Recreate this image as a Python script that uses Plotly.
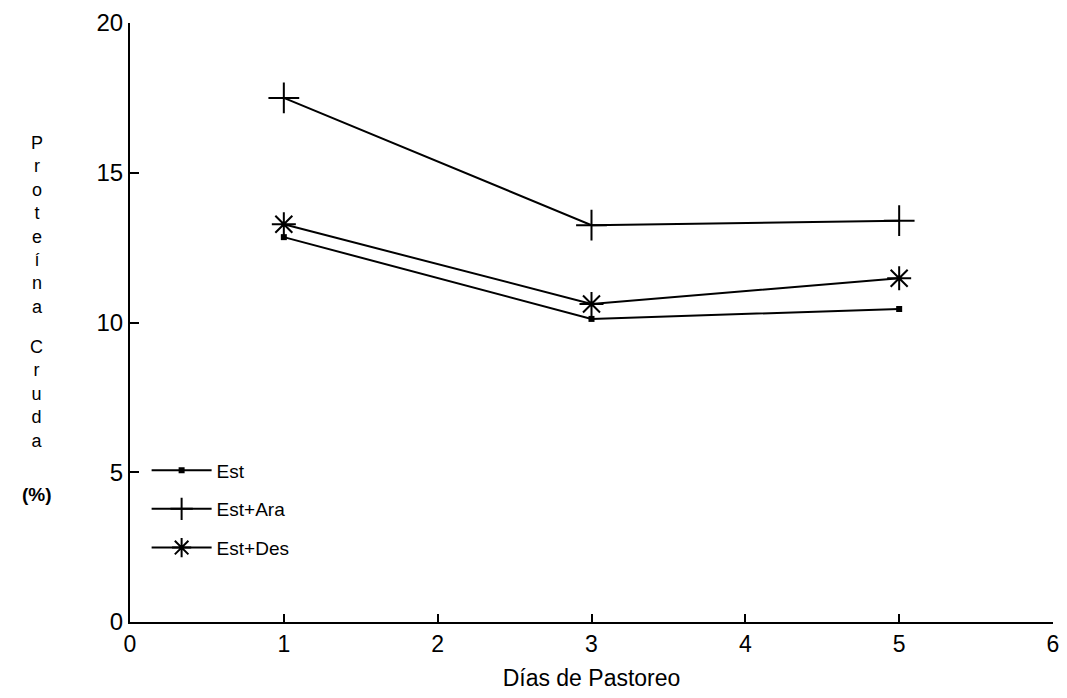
import plotly.graph_objects as go

dias = [1, 3, 5]
est = [12.85, 10.12, 10.45]
est_ara = [17.5, 13.25, 13.4]
est_des = [13.28, 10.62, 11.48]

x_ticks = [0, 1, 2, 3, 4, 5, 6]
y_ticks = [0, 5, 10, 15, 20]

FONT = "Liberation Sans"

fig = go.Figure()
fig.add_trace(go.Scatter(x=dias, y=est, name="Est", legendgroup="a",
                         mode="lines+markers",
                         line=dict(color="black", width=2),
                         marker=dict(symbol="square", size=6, color="black")))
fig.add_trace(go.Scatter(x=dias, y=est_ara, name="Est+Ara", legendgroup="b",
                         mode="lines+markers",
                         line=dict(color="black", width=2),
                         marker=dict(symbol="cross-thin-open", size=22,
                                     line=dict(color="black", width=2))))
fig.add_trace(go.Scatter(x=dias, y=est_des, name="Est+Des", legendgroup="c",
                         mode="lines+markers",
                         line=dict(color="black", width=2),
                         marker=dict(symbol="asterisk-open", size=20,
                                     line=dict(color="black", width=2))))

fig.update_layout(
    width=1067, height=698,
    margin=dict(l=130, r=8, t=23, b=76),
    paper_bgcolor="white", plot_bgcolor="white",
    font=dict(family=FONT, color="black", size=22),
    showlegend=True,
    legend=dict(x=0.018, y=0.285, xanchor="left", yanchor="top",
                bgcolor="rgba(0,0,0,0)", font=dict(size=19, family=FONT),
                tracegroupgap=11, itemwidth=60),
)
fig.update_xaxes(range=[0, 6], tickvals=x_ticks, ticktext=[str(v) for v in x_ticks],
                 showline=True, linecolor="black", linewidth=2,
                 ticks="inside", ticklen=8, tickwidth=2, tickcolor="black",
                 showgrid=False, zeroline=False,
                 tickfont=dict(size=23, family=FONT),
                 title=dict(text="Días de Pastoreo", font=dict(size=23, family=FONT),
                            standoff=14))
fig.update_yaxes(range=[0, 20], tickvals=y_ticks, ticktext=[str(v) for v in y_ticks],
                 showline=True, linecolor="black", linewidth=2,
                 ticks="inside", ticklen=9, tickwidth=2, tickcolor="black",
                 showgrid=False, zeroline=False,
                 tickfont=dict(size=24, family=FONT))

# vertical stacked y-axis title (three blocks of stacked letters)
title_blocks = [("<br>".join("Proteína"), 225, 18),
                ("<br>".join("Cruda"), 394, 18),
                ("<b>(%)</b>", 494, 19)]
for txt, py, fs in title_blocks:
    fig.add_annotation(text=txt, xref="paper", yref="paper",
                       x=(36 - 130) / 929, y=(622 - py) / 599,
                       showarrow=False, font=dict(size=fs, family=FONT),
                       xanchor="center", yanchor="middle", align="center")

fig.write_html("out.html")
